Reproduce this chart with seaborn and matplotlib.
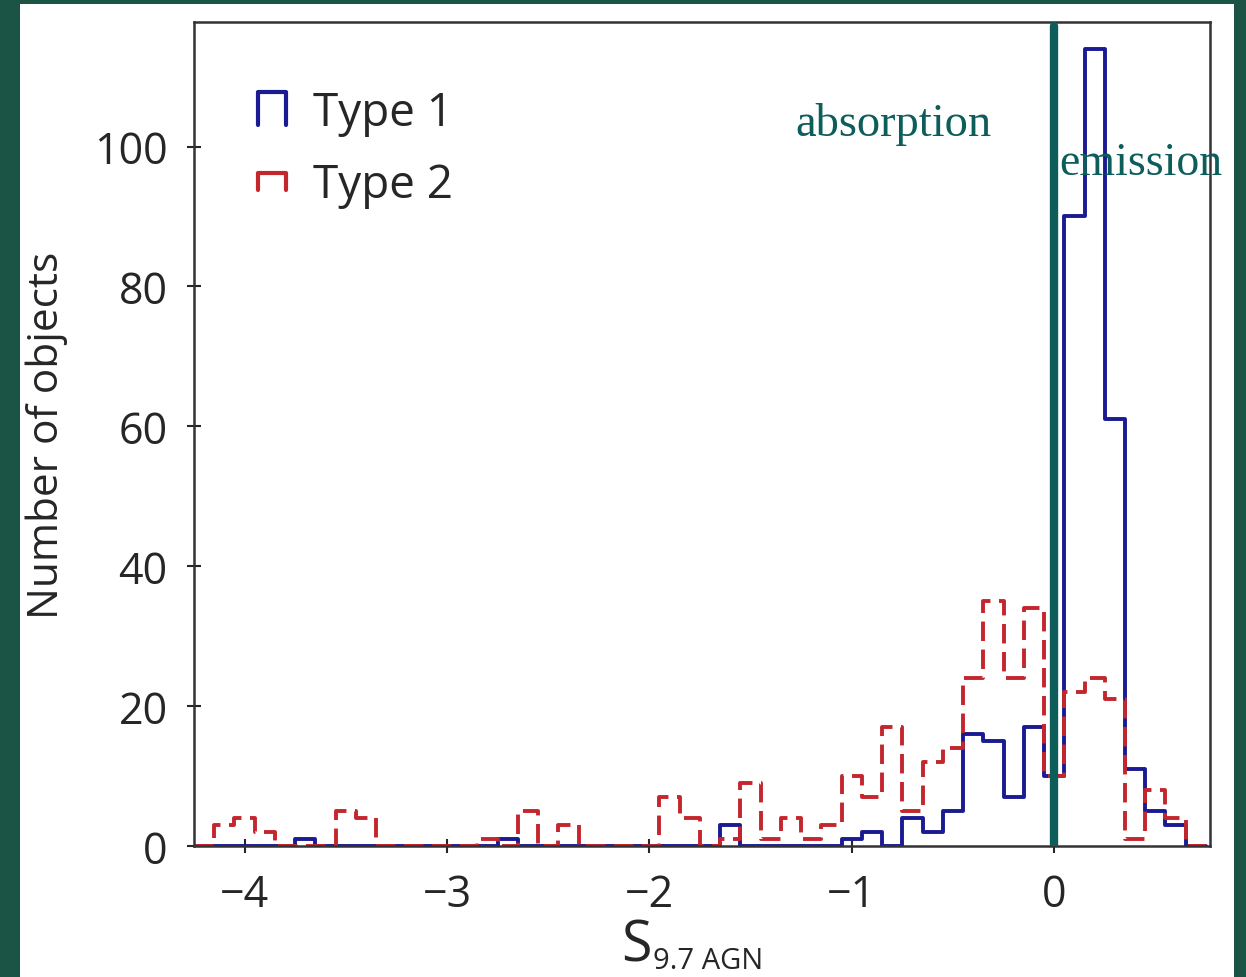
import matplotlib.pyplot as plt
import numpy as np
import pandas as pd
import seaborn as sns
from matplotlib.lines import Line2D
from matplotlib.patches import Rectangle

# bin centres of S_9.7 (bin width 0.1), with an empty bin padded at each end
s97_centres = [-4.2, -4.1, -4.0, -3.9, -3.8, -3.7, -3.6, -3.5, -3.4, -3.3,
               -3.2, -3.1, -3.0, -2.9, -2.8, -2.7, -2.6, -2.5, -2.4, -2.3,
               -2.2, -2.1, -2.0, -1.9, -1.8, -1.7, -1.6, -1.5, -1.4, -1.3,
               -1.2, -1.1, -1.0, -0.9, -0.8, -0.7, -0.6, -0.5, -0.4, -0.3,
               -0.2, -0.1, 0.0, 0.1, 0.2, 0.3, 0.4, 0.5, 0.6, 0.7]

type1_counts = [0, 0, 0, 0, 0, 1, 0, 0, 0, 0,
                0, 0, 0, 0, 0, 1, 0, 0, 0, 0,
                0, 0, 0, 0, 0, 0, 3, 0, 0, 0,
                0, 0, 1, 2, 0, 4, 2, 5, 16, 15,
                7, 17, 10, 90, 114, 61, 11, 5, 3, 0]

type2_counts = [0, 3, 4, 2, 0, 0, 0, 5, 4, 0,
                0, 0, 0, 0, 1, 0, 5, 0, 3, 0,
                0, 0, 0, 7, 4, 0, 1, 9, 1, 4,
                1, 3, 10, 7, 17, 5, 12, 14, 24, 35,
                24, 34, 10, 22, 24, 21, 1, 8, 4, 0]

xticks = [-4, -3, -2, -1, 0]
yticks = [0, 20, 40, 60, 80, 100]

BLUE = '#1a1a92'
RED = '#c4262e'
TEAL = '#0d5d5a'
INK = '#262626'


class StepHandler:
    # legend key drawn as an open-bottom box, like an old step histogram key
    def __init__(self, lo=0.0, hi=1.0):
        self.lo, self.hi = lo, hi

    def legend_artist(self, legend, orig_handle, fontsize, handlebox):
        x0, y0 = -handlebox.xdescent, -handlebox.ydescent
        w, h = handlebox.width, handlebox.height
        ylo, yhi = y0 + self.lo * h, y0 + self.hi * h
        line = Line2D([x0, x0, x0 + w, x0 + w], [ylo, yhi, yhi, ylo],
                      color=orig_handle.get_color(), lw=orig_handle.get_linewidth(),
                      transform=handlebox.get_transform())
        handlebox.add_artist(line)
        return line


sns.set_theme(style='ticks')
plt.rcParams['font.family'] = ['Open Sans', 'DejaVu Sans']

df = pd.DataFrame({'s97': s97_centres, 'type1': type1_counts, 'type2': type2_counts})
edges = np.round(np.linspace(-4.25, 0.75, 51), 2).tolist()

fig = plt.figure(figsize=(12.46, 9.78), dpi=100, facecolor='#1b5444')
fig.patches.append(Rectangle((20 / 1246, 0), 1214 / 1246, 973 / 978, transform=fig.transFigure,
                             facecolor='white', edgecolor='none', zorder=-5))
ax = fig.add_axes([0.1557, 0.1339, 0.8154, 0.8426])

sns.histplot(data=df, x='s97', weights='type1', bins=edges, element='step', fill=False,
             color=BLUE, lw=2.8, ax=ax)
sns.histplot(data=df, x='s97', weights='type2', bins=edges, element='step', fill=False,
             color=RED, lw=2.8, linestyle=(0, (5, 2.2)), ax=ax)

ax.axvline(0, color=TEAL, lw=6, ymax=0.995, zorder=5)

ax.set_xlim(-4.25, 0.77)
ax.set_ylim(0, 117.8)
ax.set_xticks(xticks)
ax.set_yticks(yticks)
ax.tick_params(direction='inout', length=10, width=1.5, labelsize=31, colors=INK, pad=14)
for sp in ax.spines.values():
    sp.set_color('#333333')
    sp.set_linewidth(1.8)

# x label: large S with a small "9.7 AGN" subscript
ax.set_xlabel('')
fig.text(621 / 1246, 1 - 976 / 978, 'S', fontsize=40, color=INK, va='bottom', ha='left')
fig.text(653 / 1246, 1 - 976 / 978, '9.7 AGN', fontsize=21, color=INK, va='bottom', ha='left')
ax.set_ylabel('Number of objects', fontsize=30.5, color=INK, labelpad=19)

ax.text(-1.277, 103.3, 'absorption', va='center', ha='left', family='Liberation Serif',
        fontsize=33.5, color=TEAL)
ax.text(0.025, 97.7, 'emission', va='center', ha='left', family='Liberation Serif',
        fontsize=33, color=TEAL, zorder=6)

h1 = Line2D([], [], color=BLUE, lw=3)
h2 = Line2D([], [], color=RED, lw=3)
ax.legend([h1, h2], ['Type 1', 'Type 2'], handler_map={h1: StepHandler(0.0, 1.0), h2: StepHandler(0.22, 0.72)},
          loc='upper left', bbox_to_anchor=(0.063, 0.918), frameon=False, fontsize=33,
          handlelength=0.6, handleheight=0.72, handletextpad=0.6, labelspacing=0.57,
          borderpad=0, borderaxespad=0, labelcolor=INK)

fig.savefig('out.png', dpi=100, facecolor=fig.get_facecolor())
